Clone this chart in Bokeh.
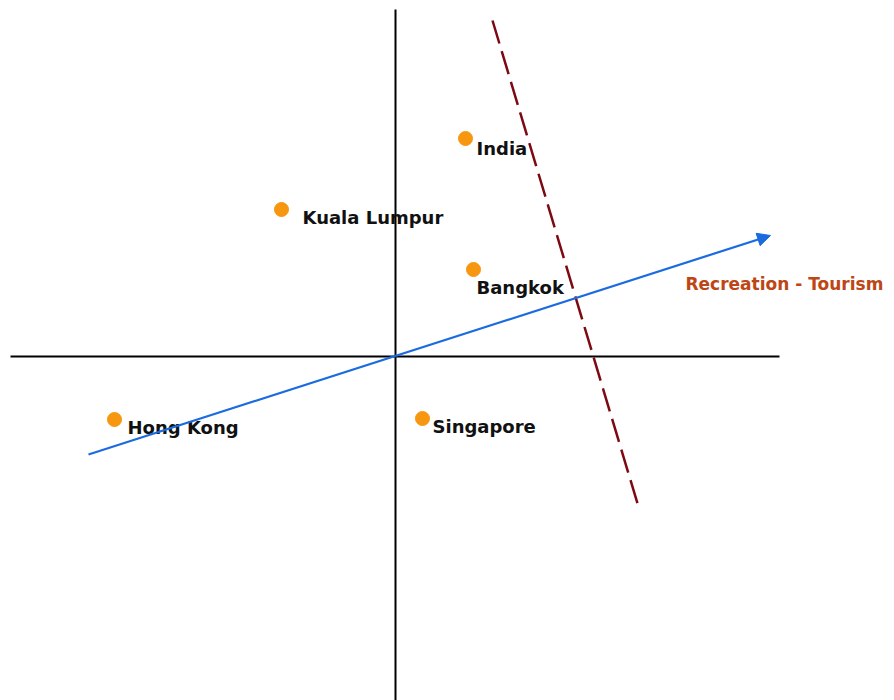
from bokeh.plotting import figure
from bokeh.models import ColumnDataSource, Range1d, Arrow, NormalHead, Label
from bokeh.embed import file_html
from bokeh.resources import INLINE
from bokeh.core.properties import value

# --- data ---
cities = ["India", "Kuala Lumpur", "Bangkok", "Hong Kong", "Singapore"]
x_vals = [0.70, -1.14, 0.78, -2.81, 0.27]
y_vals = [2.18, 1.47, 0.87, -0.63, -0.62]
label_dx = [11, 21, 3, 13, 10]
label_dy = [10, 8, 18, 8, 8]

axis_x_extent = [-3.85, 3.84]
axis_y_extent = [3.47, -3.50]
vector_start = [-3.07, -0.98]
vector_end = [3.75, 1.21]
vector_label = "Recreation - Tourism"
divider_start = [0.97, 3.36]
divider_end = [2.42, -1.47]

W, H = 894, 700
X0, Y0 = -3.95, 3.56
p = figure(width=W, height=H, output_backend="svg", toolbar_location=None,
           x_range=Range1d(X0, X0 + W / 100), y_range=Range1d(Y0 - H / 100, Y0),
           min_border=0, outline_line_color=None, background_fill_color="white",
           border_fill_color="white")
p.axis.visible = False
p.grid.visible = False

# axes lines
p.line(axis_x_extent, [0, 0], line_color="black", line_width=2)
p.line([0, 0], axis_y_extent, line_color="black", line_width=2)

# dashed divider
p.line([divider_start[0], divider_end[0]], [divider_start[1], divider_end[1]],
       line_color="#7d0a12", line_width=2.5, line_dash="24 8")

# vector arrow
p.add_layout(Arrow(end=NormalHead(size=13, fill_color="#1a6be0", line_color="#1a6be0"),
                   x_start=vector_start[0], y_start=vector_start[1],
                   x_end=vector_end[0], y_end=vector_end[1],
                   line_color="#1a6be0", line_width=2.2))

src = ColumnDataSource(dict(x=x_vals, y=y_vals, name=cities, dx=label_dx, dy=label_dy))
p.scatter("x", "y", source=src, size=14, fill_color="#f7960f", line_color="#f7960f")
p.text("x", "y", text="name", source=src, x_offset="dx", y_offset="dy",
       text_font=value("DejaVu Sans"), text_font_style="bold", text_font_size="18px",
       text_color="#111111", text_align="left", text_baseline="middle")

p.add_layout(Label(x=vector_end[0], y=vector_end[1], x_offset=-85, y_offset=-48,
                   text=vector_label, text_font="DejaVu Sans", text_font_style="bold",
                   text_font_size="17px", text_color="#bd4614",
                   text_align="left", text_baseline="middle"))

open("out.html", "w").write(file_html(p, INLINE))
